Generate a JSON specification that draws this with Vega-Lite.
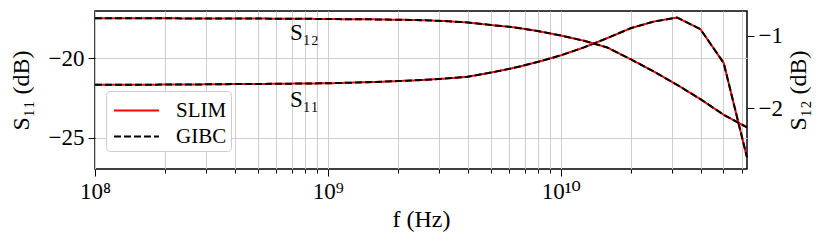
{
  "$schema": "https://vega.github.io/schema/vega-lite/v6.json",
  "width": 652,
  "height": 158,
  "autosize": {"type": "none"},
  "padding": {"left": 95, "top": 11, "right": 83, "bottom": 75},
  "config": {
    "view": {"stroke": "black", "strokeWidth": 1.5},
    "font": "Liberation Serif, DejaVu Serif, serif",
    "axis": {"labelFont": "Liberation Serif, DejaVu Serif, serif", "titleFont": "Liberation Serif, DejaVu Serif, serif", "labelFontSize": 23, "titleFontSize": 24, "titleFontWeight": "normal", "labelColor": "black", "titleColor": "black", "tickColor": "black", "domain": false, "gridColor": "#cfcfcf", "gridWidth": 1},
    "legend": {"labelFont": "Liberation Serif, DejaVu Serif, serif"}
  },
  "data": {"values": [
    {"f": 1e8, "method": "SLIM", "S11": -21.67, "S12": -0.755},
    {"f": 1.2589e8, "method": "SLIM", "S11": -21.67, "S12": -0.755},
    {"f": 1.5849e8, "method": "SLIM", "S11": -21.67, "S12": -0.755},
    {"f": 1.9953e8, "method": "SLIM", "S11": -21.66, "S12": -0.755},
    {"f": 2.5119e8, "method": "SLIM", "S11": -21.66, "S12": -0.757},
    {"f": 3.1623e8, "method": "SLIM", "S11": -21.64, "S12": -0.757},
    {"f": 3.9811e8, "method": "SLIM", "S11": -21.63, "S12": -0.758},
    {"f": 5.0119e8, "method": "SLIM", "S11": -21.62, "S12": -0.759},
    {"f": 6.3096e8, "method": "SLIM", "S11": -21.61, "S12": -0.761},
    {"f": 7.9433e8, "method": "SLIM", "S11": -21.59, "S12": -0.762},
    {"f": 1e9, "method": "SLIM", "S11": -21.58, "S12": -0.765},
    {"f": 1.2589e9, "method": "SLIM", "S11": -21.54, "S12": -0.768},
    {"f": 1.5849e9, "method": "SLIM", "S11": -21.50, "S12": -0.770},
    {"f": 1.9953e9, "method": "SLIM", "S11": -21.44, "S12": -0.775},
    {"f": 2.5119e9, "method": "SLIM", "S11": -21.38, "S12": -0.781},
    {"f": 3.1623e9, "method": "SLIM", "S11": -21.29, "S12": -0.793},
    {"f": 3.9811e9, "method": "SLIM", "S11": -21.17, "S12": -0.813},
    {"f": 5.0119e9, "method": "SLIM", "S11": -20.91, "S12": -0.848},
    {"f": 6.3096e9, "method": "SLIM", "S11": -20.61, "S12": -0.880},
    {"f": 7.9433e9, "method": "SLIM", "S11": -20.25, "S12": -0.931},
    {"f": 1e10, "method": "SLIM", "S11": -19.83, "S12": -0.993},
    {"f": 1.2589e10, "method": "SLIM", "S11": -19.33, "S12": -1.066},
    {"f": 1.5849e10, "method": "SLIM", "S11": -18.75, "S12": -1.160},
    {"f": 1.9953e10, "method": "SLIM", "S11": -18.13, "S12": -1.322},
    {"f": 2.5119e10, "method": "SLIM", "S11": -17.71, "S12": -1.494},
    {"f": 3.1623e10, "method": "SLIM", "S11": -17.46, "S12": -1.678},
    {"f": 3.9811e10, "method": "SLIM", "S11": -18.19, "S12": -1.876},
    {"f": 5.0119e10, "method": "SLIM", "S11": -20.31, "S12": -2.093},
    {"f": 6.3096e10, "method": "SLIM", "S11": -26.23, "S12": -2.266},
    {"f": 1e8, "method": "GIBC", "S11": -21.67, "S12": -0.755},
    {"f": 1.2589e8, "method": "GIBC", "S11": -21.67, "S12": -0.755},
    {"f": 1.5849e8, "method": "GIBC", "S11": -21.67, "S12": -0.755},
    {"f": 1.9953e8, "method": "GIBC", "S11": -21.66, "S12": -0.755},
    {"f": 2.5119e8, "method": "GIBC", "S11": -21.66, "S12": -0.757},
    {"f": 3.1623e8, "method": "GIBC", "S11": -21.64, "S12": -0.757},
    {"f": 3.9811e8, "method": "GIBC", "S11": -21.63, "S12": -0.758},
    {"f": 5.0119e8, "method": "GIBC", "S11": -21.62, "S12": -0.759},
    {"f": 6.3096e8, "method": "GIBC", "S11": -21.61, "S12": -0.761},
    {"f": 7.9433e8, "method": "GIBC", "S11": -21.59, "S12": -0.762},
    {"f": 1e9, "method": "GIBC", "S11": -21.58, "S12": -0.765},
    {"f": 1.2589e9, "method": "GIBC", "S11": -21.54, "S12": -0.768},
    {"f": 1.5849e9, "method": "GIBC", "S11": -21.50, "S12": -0.770},
    {"f": 1.9953e9, "method": "GIBC", "S11": -21.44, "S12": -0.775},
    {"f": 2.5119e9, "method": "GIBC", "S11": -21.38, "S12": -0.781},
    {"f": 3.1623e9, "method": "GIBC", "S11": -21.29, "S12": -0.793},
    {"f": 3.9811e9, "method": "GIBC", "S11": -21.17, "S12": -0.813},
    {"f": 5.0119e9, "method": "GIBC", "S11": -20.91, "S12": -0.848},
    {"f": 6.3096e9, "method": "GIBC", "S11": -20.61, "S12": -0.880},
    {"f": 7.9433e9, "method": "GIBC", "S11": -20.25, "S12": -0.931},
    {"f": 1e10, "method": "GIBC", "S11": -19.83, "S12": -0.993},
    {"f": 1.2589e10, "method": "GIBC", "S11": -19.33, "S12": -1.066},
    {"f": 1.5849e10, "method": "GIBC", "S11": -18.75, "S12": -1.160},
    {"f": 1.9953e10, "method": "GIBC", "S11": -18.13, "S12": -1.322},
    {"f": 2.5119e10, "method": "GIBC", "S11": -17.71, "S12": -1.494},
    {"f": 3.1623e10, "method": "GIBC", "S11": -17.46, "S12": -1.678},
    {"f": 3.9811e10, "method": "GIBC", "S11": -18.19, "S12": -1.876},
    {"f": 5.0119e10, "method": "GIBC", "S11": -20.31, "S12": -2.093},
    {"f": 6.3096e10, "method": "GIBC", "S11": -26.23, "S12": -2.266}
  ]},
  "encoding": {
    "x": {
      "field": "f", "type": "quantitative",
      "scale": {"type": "log", "domain": [1e8, 6.3096e10], "nice": false},
      "axis": {
        "title": "f (Hz)",
        "values": [1e8,2e8,3e8,4e8,5e8,6e8,7e8,8e8,9e8,1e9,2e9,3e9,4e9,5e9,6e9,7e9,8e9,9e9,1e10,2e10,3e10,4e10,5e10,6e10],
        "labelExpr": "datum.value == 1e8 ? '10⁸' : datum.value == 1e9 ? '10⁹' : datum.value == 1e10 ? '10¹⁰' : ''",
        "grid": true,
        "tickSize": {"condition": {"test": "datum.value == 1e8 || datum.value == 1e9 || datum.value == 1e10", "value": 7}, "value": 4},
        "tickWidth": 1,
        "labelPadding": 4,
        "titlePadding": 4,
        "labelFlush": false
      }
    }
  },
  "layer": [
    {
      "layer": [
        {
          "transform": [{"filter": "datum.method == 'SLIM'"}],
          "mark": {"type": "line", "strokeWidth": 2},
          "encoding": {
            "y": {"field": "S11", "type": "quantitative", "scale": {"domain": [-26.95, -17.05], "nice": false, "zero": false},
              "axis": {"title": "S₁₁ (dB)", "values": [-25, -20], "grid": true, "tickSize": 7, "labelPadding": 4, "titlePadding": 15}},
            "color": {"field": "method", "type": "nominal", "scale": {"domain": ["SLIM", "GIBC"], "range": ["#ff0000", "#000000"]},
              "legend": {"title": null, "orient": "none", "legendX": 11, "legendY": 80, "symbolType": "M-1.55,0H1.55", "symbolSize": 841, "symbolStrokeWidth": 2, "symbolOffset": 11, "labelFontSize": 21, "labelColor": "black", "labelOffset": 24, "rowPadding": 0, "padding": 4, "fillColor": "white", "strokeColor": "#cccccc", "cornerRadius": 4}},
            "strokeDash": {"field": "method", "type": "nominal", "scale": {"domain": ["SLIM", "GIBC"], "range": [[1, 0], [7, 3]]}}
          }
        },
        {
          "transform": [{"filter": "datum.method == 'GIBC'"}],
          "mark": {"type": "line", "strokeWidth": 2},
          "encoding": {
            "y": {"field": "S11", "type": "quantitative"},
            "color": {"field": "method", "type": "nominal"},
            "strokeDash": {"field": "method", "type": "nominal"}
          }
        },
        {
          "data": {"values": [
            {"f": 6.87e8, "S11": -18.42, "label": "S₁₂"},
            {"f": 6.87e8, "S11": -22.61, "label": "S₁₁"}
          ]},
          "mark": {"type": "text", "align": "left", "baseline": "middle", "fontSize": 23, "color": "black"},
          "encoding": {
            "y": {"field": "S11", "type": "quantitative"},
            "text": {"field": "label"}
          }
        }
      ]
    },
    {
      "layer": [
        {
          "transform": [{"filter": "datum.method == 'SLIM'"}],
          "mark": {"type": "line", "strokeWidth": 2},
          "encoding": {
            "y": {"field": "S12", "type": "quantitative", "scale": {"domain": [-2.844, -0.654], "nice": false, "zero": false},
              "axis": {"orient": "right", "title": "S₁₂ (dB)", "values": [-2, -1], "format": "d", "grid": false, "tickSize": 7, "labelPadding": 4, "titlePadding": 4, "titleAngle": 270, "titleBaseline": "top"}},
            "color": {"field": "method", "type": "nominal"},
            "strokeDash": {"field": "method", "type": "nominal"}
          }
        },
        {
          "transform": [{"filter": "datum.method == 'GIBC'"}],
          "mark": {"type": "line", "strokeWidth": 2},
          "encoding": {
            "y": {"field": "S12", "type": "quantitative"},
            "color": {"field": "method", "type": "nominal"},
            "strokeDash": {"field": "method", "type": "nominal"}
          }
        }
      ]
    }
  ],
  "resolve": {"scale": {"y": "independent"}}
}
